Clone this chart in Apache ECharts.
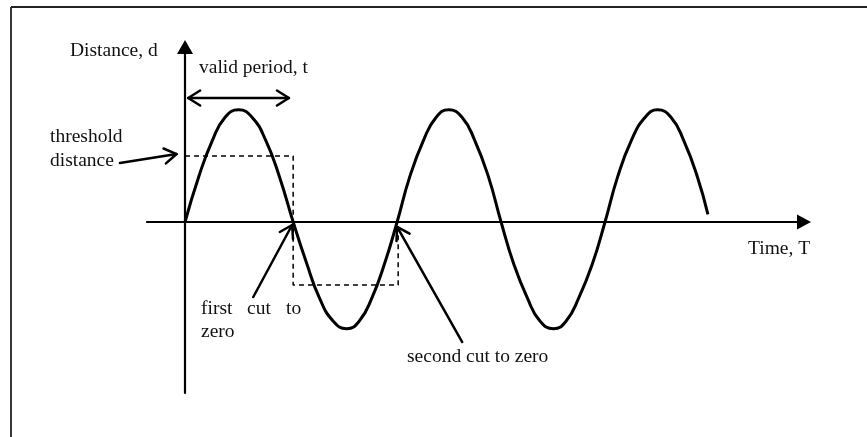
<!DOCTYPE html>
<html>
<head>
<meta charset="utf-8">
<title>Distance over time</title>
<script src="https://cdn.jsdelivr.net/npm/echarts@6/dist/echarts.min.js"></script>
<style>
  html, body { margin: 0; padding: 0; background: #ffffff; }
  #chart { width: 867px; height: 437px; }
</style>
</head>
<body>
<div id="chart"></div>
<script>
// Time (in half-period units) and distance of the oscillating signal
const timeValues = [
  0, 0.13, 0.26, 0.38, 0.51, 0.64, 0.77, 0.90, 1.03,
  1.16, 1.28, 1.41, 1.54, 1.66, 1.78, 1.90, 2.02,
  2.14, 2.27, 2.39, 2.51, 2.64, 2.76, 2.89, 3.01,
  3.13, 3.26, 3.38, 3.51, 3.63, 3.75, 3.88, 4.00,
  4.12, 4.25, 4.38, 4.50, 4.63, 4.75, 4.88, 4.98
];
const distanceValues = [
  0, 0.41, 0.74, 0.95, 1.02, 0.95, 0.74, 0.41, 0,
  -0.38, -0.69, -0.90, -0.97, -0.90, -0.69, -0.38, 0,
  0.41, 0.74, 0.95, 1.02, 0.95, 0.74, 0.41, 0,
  -0.38, -0.69, -0.90, -0.97, -0.90, -0.69, -0.38, 0,
  0.41, 0.74, 0.95, 1.02, 0.95, 0.74, 0.41, 0.07
];

// Threshold band outline (dashed): threshold level, down past first cut, across to second cut
const thresholdTimes = [0, 1.03, 1.03, 2.03, 2.03];
const thresholdDistances = [0.6, 0.6, -0.573, -0.573, 0];

// Annotation arrows: [fromTime, fromDistance, toTime, toDistance, doubleHeaded]
const validPeriodArrow = [0.03, 1.127, 0.99, 1.127, 1];
const thresholdArrow = [-0.62, 0.536, -0.08, 0.618, 0];
const firstCutArrow = [0.65, -0.682, 1.02, -0.027, 0];
const secondCutArrow = [2.64, -1.091, 2.02, -0.045, 0];

const chart = echarts.init(document.getElementById('chart'), null, { renderer: 'canvas' });

const wave = timeValues.map((t, i) => [t, distanceValues[i]]);
const threshold = thresholdTimes.map((t, i) => [t, thresholdDistances[i]]);

const serif = '"Liberation Serif", "Times New Roman", serif';
const textColor = '#111111';
const labelFont = '19.5px ' + serif;

function label(text, x, y) {
  return {
    type: 'text', x: x, y: y, silent: true,
    style: { text: text, font: labelFont, fill: textColor, align: 'left', verticalAlign: 'middle' }
  };
}

function renderArrow(params, api) {
  const p1 = api.coord([api.value(0), api.value(1)]);
  const p2 = api.coord([api.value(2), api.value(3)]);
  const both = api.value(4) === 1;
  const dx = p2[0] - p1[0], dy = p2[1] - p1[1];
  const len = Math.sqrt(dx * dx + dy * dy);
  const ux = dx / len, uy = dy / len;
  const nx = -uy, ny = ux;
  const L = 12, W = 7.5;
  const style = { stroke: '#000', lineWidth: 2.5, fill: null, lineCap: 'round', lineJoin: 'round' };
  const head = (tip, sx, sy) => ({
    type: 'polyline',
    shape: { points: [
      [tip[0] - L * sx + W * nx, tip[1] - L * sy + W * ny],
      tip,
      [tip[0] - L * sx - W * nx, tip[1] - L * sy - W * ny]
    ] },
    style: style
  });
  const children = [
    { type: 'line', shape: { x1: p1[0], y1: p1[1], x2: p2[0], y2: p2[1] }, style: style },
    head(p2, ux, uy)
  ];
  if (both) children.push(head(p1, -ux, -uy));
  return { type: 'group', children: children };
}

const axisLineStyle = { color: '#000', width: 2.2 };

chart.setOption({
  animation: false,
  backgroundColor: '#ffffff',
  grid: { left: 147, right: 63, top: 47, bottom: 44, containLabel: false },
  xAxis: {
    type: 'value', min: -0.362, max: 5.895,
    axisLine: { show: true, onZero: true, symbol: ['none', 'triangle'], symbolSize: [15, 14], lineStyle: axisLineStyle },
    axisTick: { show: false }, axisLabel: { show: false }, splitLine: { show: false }
  },
  yAxis: {
    type: 'value', min: -1.5545, max: 1.591,
    axisLine: { show: true, onZero: true, symbol: ['none', 'triangle'], symbolSize: [16, 14], lineStyle: axisLineStyle },
    axisTick: { show: false }, axisLabel: { show: false }, splitLine: { show: false }
  },
  series: [
    {
      type: 'line', data: wave, smooth: 0.5, showSymbol: false, clip: false,
      lineStyle: { color: '#000', width: 3 }, z: 5
    },
    {
      type: 'line', data: threshold, smooth: false, showSymbol: false, clip: false,
      lineStyle: { color: '#000', width: 1.5, type: [5, 4] }, z: 4
    },
    {
      type: 'custom', renderItem: renderArrow, clip: false,
      encode: { x: [0, 2], y: [1, 3] },
      data: [validPeriodArrow, thresholdArrow, firstCutArrow, secondCutArrow], z: 6
    }
  ],
  graphic: [
    { type: 'line', silent: true, shape: { x1: 11, y1: 7, x2: 867, y2: 7 }, style: { stroke: '#222', lineWidth: 1.8 } },
    { type: 'line', silent: true, shape: { x1: 11, y1: 7, x2: 11, y2: 437 }, style: { stroke: '#222', lineWidth: 1.8 } },
    label('Distance, d', 70, 51),
    label('valid period, t', 199, 68),
    label('threshold', 50, 137),
    label('distance', 50, 161),
    label('first', 201, 309),
    label('cut', 247, 309),
    label('to', 286, 309),
    label('zero', 201, 332),
    label('second cut to zero', 407, 357),
    label('Time, T', 748, 249)
  ]
});
</script>
</body>
</html>
